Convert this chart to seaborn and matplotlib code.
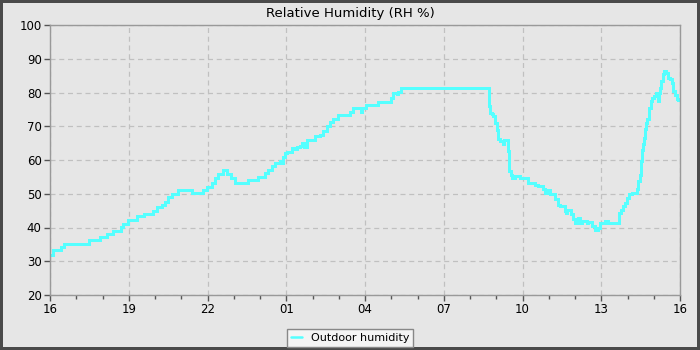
import pandas as pd
import numpy as np
import matplotlib
matplotlib.use("Agg")
import matplotlib.pyplot as plt
import matplotlib.dates as mdates
import seaborn as sns

# hours after 16:00, relative humidity (%)
hours = [
    0.00, 0.12, 0.40, 0.55, 1.50, 1.90, 2.16, 2.41, 2.70, 2.79,
    2.98, 3.30, 3.58, 3.94, 4.06, 4.25, 4.38, 4.51, 4.63, 4.89,
    5.40, 5.84, 5.97, 6.16, 6.29, 6.41, 6.58, 6.76, 6.90, 7.05,
    7.56, 7.94, 8.19, 8.32, 8.44, 8.57, 8.76, 8.83, 8.89, 8.95,
    9.02, 9.21, 9.33, 9.40, 9.52, 9.59, 9.68, 9.78, 10.10, 10.29,
    10.41, 10.54, 10.67, 10.79, 10.98, 11.43, 11.56, 11.84, 11.90, 12.04,
    12.51, 12.98, 13.08, 13.21, 13.27, 13.36, 16.72, 16.76, 16.83, 16.89,
    16.95, 17.02, 17.05, 17.14, 17.25, 17.30, 17.40, 17.46, 17.49, 17.55,
    17.61, 17.71, 17.90, 18.22, 18.48, 18.60, 18.77, 18.86, 18.98, 19.05,
    19.24, 19.37, 19.43, 19.62, 19.66, 19.71, 19.84, 19.91, 20.00, 20.13,
    20.19, 20.25, 20.44, 20.51, 20.63, 20.76, 20.89, 20.95, 21.14, 21.27,
    21.69, 21.74, 21.84, 21.90, 21.97, 22.07, 22.16, 22.29, 22.35, 22.41,
    22.48, 22.51, 22.54, 22.58, 22.63, 22.67, 22.70, 22.75, 22.82, 22.88,
    22.94, 23.02, 23.09, 23.15, 23.20, 23.24, 23.28, 23.34, 23.40, 23.47,
    23.53, 23.62, 23.68, 23.72, 23.81, 23.87, 23.94, 24.00,
]
rh = [
    32.0, 33.3, 34.1, 35.1, 36.2, 37.1, 38.1, 39.1, 40.2, 41.1,
    42.1, 43.3, 44.1, 45.0, 46.0, 46.8, 47.7, 48.9, 49.9, 51.1,
    50.1, 51.0, 51.9, 53.1, 54.6, 55.9, 57.1, 55.9, 54.6, 53.1,
    54.1, 55.1, 56.1, 57.1, 58.1, 59.1, 59.8, 59.1, 61.0, 62.0,
    62.3, 63.5, 63.2, 63.8, 64.2, 65.0, 64.0, 66.0, 67.0, 67.5,
    68.5, 70.2, 71.2, 72.2, 73.3, 74.2, 75.3, 74.3, 75.3, 76.2,
    77.2, 78.5, 80.0, 79.5, 80.2, 81.3, 76.0, 74.0, 73.6, 73.0,
    71.0, 69.0, 66.3, 65.6, 64.7, 66.0, 65.8, 62.7, 56.7, 55.7,
    54.6, 55.2, 54.6, 53.3, 52.5, 52.3, 51.3, 50.3, 51.0, 49.8,
    48.3, 46.8, 46.3, 44.8, 44.4, 45.1, 43.9, 42.6, 41.4, 42.9,
    41.4, 41.9, 41.4, 41.7, 40.4, 39.4, 39.9, 41.2, 41.8, 41.4,
    44.4, 45.2, 46.4, 47.4, 48.8, 49.8, 50.1, 50.3, 51.5, 53.8,
    55.7, 59.7, 63.1, 64.6, 66.6, 69.1, 71.0, 72.2, 75.5, 77.5,
    78.5, 79.1, 79.9, 77.5, 79.9, 81.4, 83.4, 85.4, 86.3, 85.9,
    84.4, 84.1, 82.9, 80.4, 79.4, 78.2, 77.8, 78.0,
]

start = pd.Timestamp("2024-01-01 16:00")
df = pd.DataFrame({
    "time": start + pd.to_timedelta(hours, unit="h"),
    "rh": rh,
})

BG = "#e6e6e6"
sns.set_style("ticks", {
    "axes.facecolor": BG,
    "figure.facecolor": BG,
    "axes.edgecolor": "#999999",
    "xtick.color": "#555555",
    "ytick.color": "#555555",
    "text.color": "black",
})
plt.rcParams["font.family"] = ["DejaVu Sans"]

fig = plt.figure(figsize=(7, 3.5), dpi=100)
fig.patch.set_edgecolor("#4a4a4a")
fig.patch.set_linewidth(3)
ax = fig.add_axes([50 / 700, 55 / 350, 630 / 700, 270 / 350])

sns.lineplot(data=df, x="time", y="rh", ax=ax, color="#55ffff",
             linewidth=1.8, drawstyle="steps-post", estimator=None,
             sort=False, antialiased=False, label="Outdoor humidity")

ax.set_xlim(start, start + pd.Timedelta(hours=24))
ax.set_ylim(20, 100)
ax.set_yticks(np.arange(20, 101, 10))
ax.xaxis.set_major_locator(mdates.HourLocator(byhour=[1, 4, 7, 10, 13, 16, 19, 22]))
ax.xaxis.set_major_formatter(mdates.DateFormatter("%H"))
ax.xaxis.set_minor_locator(mdates.HourLocator())
ax.tick_params(axis="both", which="major", length=4, width=1,
               labelsize=8.5, labelcolor="black", pad=2)
ax.tick_params(axis="x", which="minor", length=3, width=1, color="#555555")
ax.grid(True, which="major", color="#c0c0c0", linestyle=(0, (4, 3)), linewidth=0.9)
for s in ax.spines.values():
    s.set_color("#999999")
    s.set_linewidth(1)
ax.set_xlabel("")
ax.set_ylabel("")
# title is centred on the whole figure, not on the axes
ax.set_title("Relative Humidity (RH %)", fontsize=9.5, pad=6, x=300 / 630)

ax.legend(loc="lower center", bbox_to_anchor=(0.5, 3 / 350),
          bbox_transform=fig.transFigure, borderaxespad=0, fontsize=8,
          frameon=True, fancybox=False, facecolor="#f4f4f4",
          edgecolor="#888888", framealpha=1, handlelength=1.0,
          handletextpad=0.8, borderpad=0.35)

fig.savefig("out.png", dpi=100, facecolor=fig.get_facecolor(),
            edgecolor=fig.patch.get_edgecolor())
